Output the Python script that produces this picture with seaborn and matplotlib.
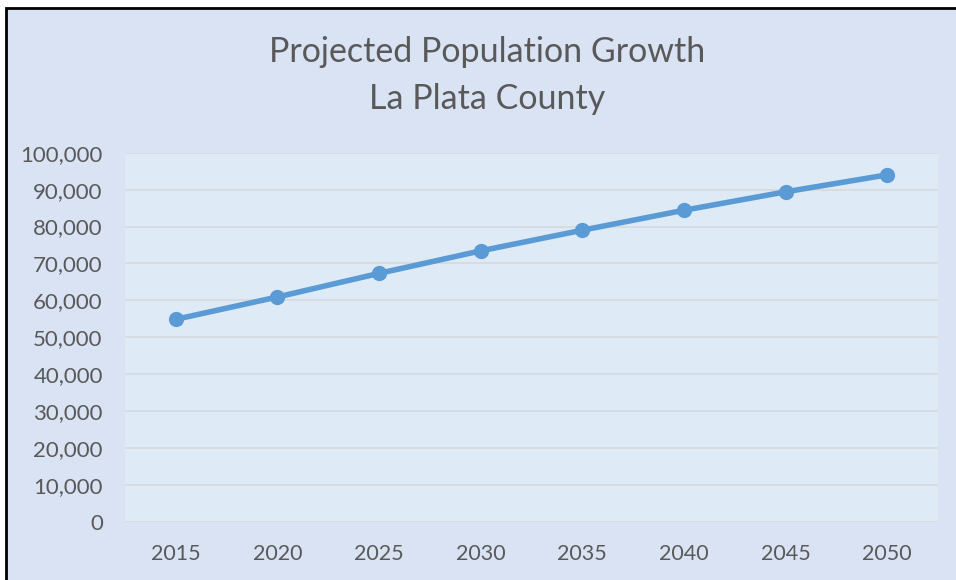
import seaborn as sns
import matplotlib.pyplot as plt
import pandas as pd
from matplotlib.patches import Rectangle
from matplotlib.ticker import FuncFormatter

# datos
years = [2015, 2020, 2025, 2030, 2035, 2040, 2045, 2050]
population = [54850, 60900, 67300, 73400, 79000, 84400, 89400, 94000]
title_lines = ["Projected Population Growth", "La Plata County"]

df = pd.DataFrame({"year": years, "population": population})

sns.set_theme(style="white")
plt.rcParams['font.family'] = ['Lato', 'DejaVu Sans']

text_color = "#595959"
fig = plt.figure(figsize=(9.56, 5.8), dpi=100, facecolor="white")

# fondo del area del grafico con borde negro arriba e izquierda
fondo = Rectangle((6 / 956, -0.05), 1.1, (580 - 8) / 580 + 0.05,
                  transform=fig.transFigure, facecolor="#DAE3F3",
                  edgecolor="black", linewidth=2, zorder=-10)
fig.add_artist(fondo)

ax = fig.add_axes([125 / 956, 0.1005, 813 / 956, 0.6362])
ax.set_facecolor("#DEEBF7")

sns.lineplot(data=df, x="year", y="population", ax=ax, color="#5B9BD5",
             linewidth=4, marker="o", markersize=11, markeredgewidth=0)

ax.set_xlim(2012.5, 2052.5)
ax.set_ylim(0, 100000)
ax.set_xticks(years)
ax.set_yticks(range(0, 100001, 10000))
ax.yaxis.set_major_formatter(FuncFormatter(lambda v, p: f"{int(v):,}"))
ax.grid(axis="y", color="#D9D9D9", linewidth=1.2)
ax.set_axisbelow(True)
for s in ax.spines.values():
    s.set_visible(False)
ax.tick_params(axis="both", length=0, labelsize=15.5, colors=text_color)
ax.tick_params(axis="y", labelsize=16, pad=16)
ax.tick_params(axis="x", pad=16)
ax.set_xlabel("")
ax.set_ylabel("")

fig.text(487 / 956, 1 - 52 / 580, title_lines[0], ha="center", va="center",
         fontsize=24.5, color=text_color)
fig.text(487 / 956, 1 - 99 / 580, title_lines[1], ha="center", va="center",
         fontsize=24.5, color=text_color)

fig.savefig("out.png", dpi=100, facecolor="white")
